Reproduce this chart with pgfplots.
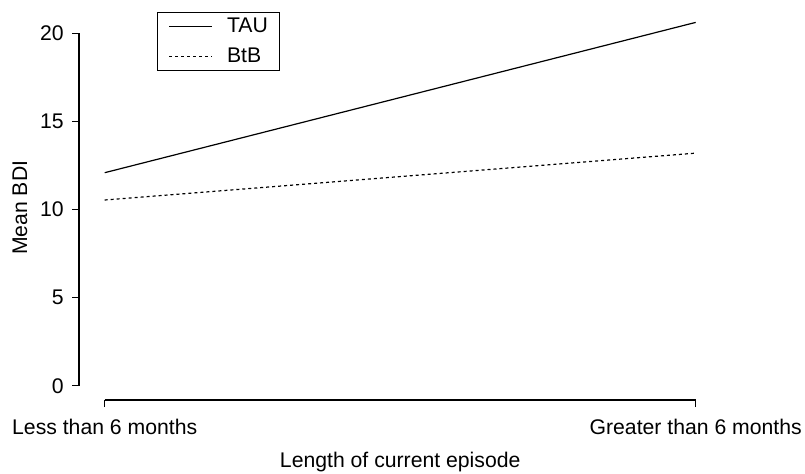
\documentclass[border=0pt]{standalone}
\usepackage{fontspec}
\setmainfont{Liberation Sans}
\usepackage{pgfplots}
\pgfplotsset{compat=1.18}
\begin{document}
\begin{tikzpicture}[font=\fontsize{10.6}{12.7}\selectfont]
\useasboundingbox (0pt,0pt) rectangle (402.5pt,236.5pt);
\begin{axis}[
  at={(39.5pt,36.5pt)}, anchor=south west,
  scale only axis, width=321.2pt, height=192.15pt,
  xmin=-0.0435, xmax=1.0435, ymin=-0.81, ymax=21,
  clip=false,
  axis x line*=bottom, axis y line*=left,
  axis line style={draw=none},
  tick align=outside, major tick length=3.5pt,
  major tick style={draw=none},
  xtick={0,1}, xticklabels={Less than 6 months, Greater than 6 months},
  ytick={0,5,10,15,20},
  /pgf/number format/assume math mode=true,
  xticklabel style={inner sep=0pt, anchor=north},
  yticklabel style={inner sep=0pt, anchor=east},
  xticklabel shift=6pt, yticklabel shift=4pt,
  xlabel={Length of current episode},
  ylabel={Mean BDI},
  xlabel style={at={(rel axis cs:0.5,-0.1769)}, anchor=base},
  ylabel style={at={(rel axis cs:-0.0809,0.5)}, anchor=base, rotate=0},
  legend style={at={(rel axis cs:0.1214,1.010)}, anchor=north west,
    draw=black, line width=0.5pt, inner xsep=5.7pt, inner ysep=2.8pt,
    row sep=6pt, nodes={inner sep=0pt},
    /tikz/every odd column/.append style={column sep=7pt}},
  legend cell align=left,
  legend image code/.code={\draw[#1] (0pt,0pt) -- (21.5pt,0pt);},
]
\addplot[black, line width=0.6pt] coordinates {(0,12.09) (1,20.62)};
\addlegendentry{TAU}
\addplot[black, line width=0.6pt, dash pattern=on 1.5pt off 1.5pt] coordinates {(0,10.54) (1,13.20)};
\addlegendentry{BtB}
\draw[black, line width=0.6pt] (axis cs:-0.0435,0) -- (axis cs:-0.0435,20);
\draw[black, line width=0.6pt] (axis cs:0,-0.81) -- (axis cs:1,-0.81);
\pgfplotsinvokeforeach{0,5,10,15,20}{\draw[black, line width=0.6pt] (axis cs:-0.0435,#1) -- (axis cs:-0.0435,#1) ++(-3.5pt,0pt) -- (axis cs:-0.0435,#1);}
\pgfplotsinvokeforeach{0,1}{\draw[black, line width=0.6pt] (axis cs:#1,-0.81) ++(0pt,-3.5pt) -- (axis cs:#1,-0.81);}
\end{axis}
\end{tikzpicture}
\end{document}
